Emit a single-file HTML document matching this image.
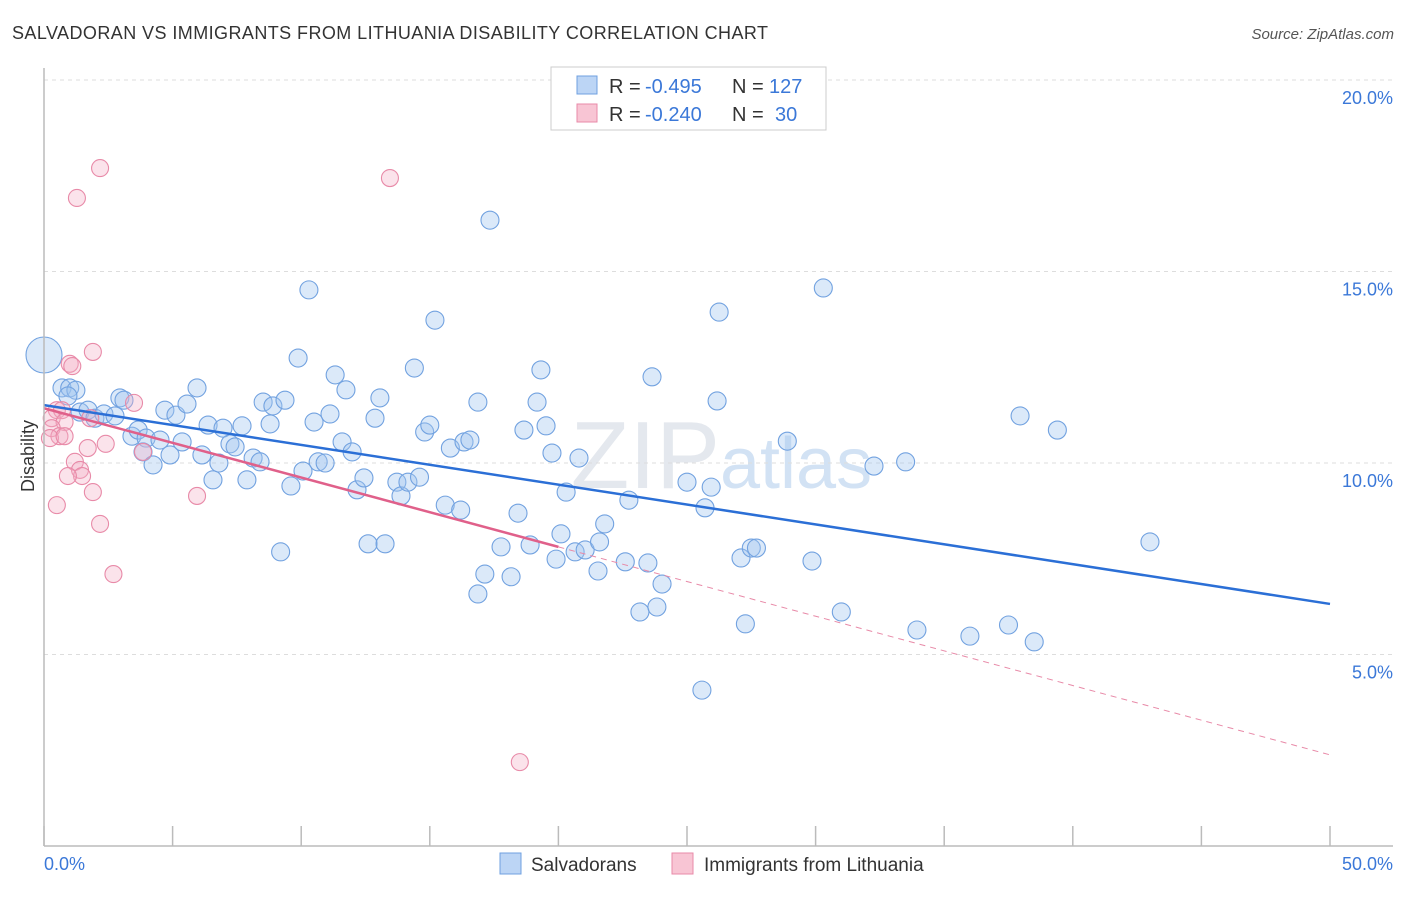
<!DOCTYPE html>
<html><head><meta charset="utf-8"><style>
body{margin:0;background:#fff;font-family:"Liberation Sans",sans-serif;}
svg text{font-family:"Liberation Sans",sans-serif;}
</style></head><body>
<svg id="c" width="1406" height="892" xmlns="http://www.w3.org/2000/svg">
<text x="12" y="39" font-size="18" fill="#333" textLength="756">SALVADORAN VS IMMIGRANTS FROM LITHUANIA DISABILITY CORRELATION CHART</text>
<text x="1394" y="39" font-size="15" fill="#555" font-style="italic" text-anchor="end">Source: ZipAtlas.com</text>
<text x="720" y="488" font-size="96" fill="#e4e8ee" text-anchor="end" font-family="Liberation Serif">ZIP</text>
<text x="720" y="488" font-size="72" fill="#d2e2f4">atlas</text>
<g id="grid"></g><g id="pts"></g><g id="trend"></g>
<line x1="44" y1="68" x2="44" y2="846" stroke="#bbb" stroke-width="1.5"/>
<line x1="44" y1="846" x2="1393" y2="846" stroke="#bbb" stroke-width="1.5"/>
<text transform="translate(34,456) rotate(-90)" font-size="18" fill="#333" text-anchor="middle">Disability</text>
<text x="44" y="870" font-size="18" fill="#3b78d8">0.0%</text>
<text x="1393" y="870" font-size="18" fill="#3b78d8" text-anchor="end">50.0%</text>
<g>
<rect x="551" y="67" width="275" height="63" fill="#fff" stroke="#ccc"/>
<rect x="577" y="76" width="20" height="18" fill="#bcd5f5" stroke="#6fa0e0"/>
<rect x="577" y="104" width="20" height="18" fill="#f8c5d4" stroke="#e88aa8"/>
<text x="609" y="93" font-size="20" fill="#333">R =</text>
<text x="645" y="93" font-size="20" fill="#3b78d8">-0.495</text>
<text x="732" y="93" font-size="20" fill="#333">N =</text>
<text x="769" y="93" font-size="20" fill="#3b78d8">127</text>
<text x="609" y="121" font-size="20" fill="#333">R =</text>
<text x="645" y="121" font-size="20" fill="#3b78d8">-0.240</text>
<text x="732" y="121" font-size="20" fill="#333">N =</text>
<text x="775" y="121" font-size="20" fill="#3b78d8">30</text>
</g>
<g>
<rect x="500" y="853" width="21" height="21" fill="#bcd5f5" stroke="#6fa0e0"/>
<text x="531" y="871" font-size="19" fill="#333">Salvadorans</text>
<rect x="672" y="853" width="21" height="21" fill="#f8c5d4" stroke="#e88aa8"/>
<text x="704" y="871" font-size="19" fill="#333">Immigrants from Lithuania</text>
</g>
</svg>
<script>
const yTicks=[5,10,15,20];
const yTickLabels=["5.0%","10.0%","15.0%","20.0%"];
const xTicks=[0,5,10,15,20,25,30,35,40,45,50];
const blueX=[0,0.7,1.0,1.24,0.93,1.4,1.71,1.98,2.33,2.76,2.95,3.11,3.42,3.66,3.97,3.85,4.24,4.51,4.7,4.9,5.13,5.37,5.56,5.95,6.14,6.38,6.57,6.8,6.96,7.23,7.43,7.7,7.89,8.13,8.4,8.52,8.79,8.9,9.37,9.2,9.6,9.88,10.07,10.3,10.5,10.66,10.93,11.12,11.32,11.59,11.74,11.98,12.17,12.44,12.6,12.87,13.06,13.26,13.72,13.88,14.15,14.4,14.6,14.8,15.0,15.2,15.6,15.8,16.2,16.33,16.56,16.87,16.87,17.14,17.34,17.77,18.16,18.43,18.66,18.9,19.17,19.32,19.52,19.75,19.91,20.1,20.3,20.65,20.8,21.04,21.54,21.6,21.8,22.6,22.74,23.17,23.48,23.64,23.83,24.03,25.0,25.58,25.7,25.94,26.17,26.25,27.1,27.27,27.5,27.7,28.9,29.86,30.3,31.0,32.27,33.5,33.94,36.0,37.5,37.95,38.5,39.4,43.0];
const blueY=[12.82,11.96,11.96,11.9,11.75,11.33,11.38,11.17,11.28,11.23,11.7,11.64,10.7,10.86,10.65,10.29,9.95,10.6,11.38,10.21,11.25,10.55,11.54,11.96,10.21,10.99,9.56,10.0,10.91,10.5,10.42,10.97,9.56,10.13,10.03,11.59,11.02,11.49,11.64,7.68,9.4,12.74,9.79,14.52,11.07,10.03,10.0,11.28,12.3,10.55,11.91,10.29,9.3,9.61,7.89,11.17,11.7,7.89,9.5,9.14,9.5,12.48,9.63,10.81,10.99,13.73,8.9,10.39,8.77,10.55,10.6,11.59,6.58,7.1,16.34,7.81,7.03,8.69,10.86,7.86,11.59,12.43,10.97,10.26,7.49,8.15,9.24,7.68,10.13,7.73,7.18,7.94,8.41,7.42,9.03,6.11,7.39,12.25,6.24,6.84,9.5,4.07,8.83,9.37,11.62,13.94,7.52,5.8,7.78,7.78,10.57,7.44,14.57,6.11,9.92,10.03,5.64,5.48,5.77,11.23,5.33,10.86,7.94];
const pinkX=[2.18,1.28,13.45,1.9,1.0,1.1,3.5,0.5,0.7,0.3,0.8,1.8,0.3,0.6,0.23,0.8,2.4,3.85,1.7,1.2,1.4,1.48,0.93,1.9,5.95,0.5,2.18,2.7,18.5];
const pinkY=[17.7,16.92,17.44,12.9,12.59,12.53,11.57,11.38,11.38,11.17,11.07,11.17,10.91,10.7,10.65,10.7,10.5,10.29,10.39,10.03,9.82,9.66,9.66,9.24,9.14,8.9,8.41,7.1,2.19];
const blueTrend=[11.51,6.32];
const pinkTrend=[11.43,2.38];
const NS="http://www.w3.org/2000/svg";
const X=v=>44+v/50*1286, Y=v=>846-v*38.3;
function mk(t,a,p){const e=document.createElementNS(NS,t);for(const k in a)e.setAttribute(k,a[k]);p.appendChild(e);return e;}
const g=document.getElementById('grid');
yTicks.forEach((t,i)=>{
 const l=mk('line',{x1:44,x2:1393,y1:Y(t),y2:Y(t),stroke:'#ddd','stroke-dasharray':'4,4'},g);
 
 
 const tx=mk('text',{x:1393,y:Y(t)+24,'font-size':18,fill:'#3b78d8','text-anchor':'end'},g);
 tx.textContent=yTickLabels[i];
 
 
});
xTicks.forEach(t=>{
 const l=mk('line',{x1:X(t),x2:X(t),y1:826,y2:846,stroke:'#bbb','stroke-width':1.5},g);
 
 
});
const p=document.getElementById('pts');
blueX.forEach((x,i)=>{
 const c=mk('circle',{cx:X(x),cy:Y(blueY[i]),r:i==0?18:9,fill:'rgba(160,196,240,0.38)',stroke:'#72a2e0','stroke-width':1.1},p);
 
 
});
pinkX.forEach((x,i)=>{
 const c=mk('circle',{cx:X(x),cy:Y(pinkY[i]),r:8.5,fill:'rgba(244,175,198,0.35)',stroke:'#e88aa8','stroke-width':1.1},p);
 
 
});
const tr=document.getElementById('trend');
const bl=mk('line',{x1:X(0),y1:Y(blueTrend[0]),x2:X(50),y2:Y(blueTrend[1]),stroke:'#2b6fd6','stroke-width':2.5},tr);


const pv=x=>pinkTrend[0]+(pinkTrend[1]-pinkTrend[0])*x/50;
const ps=mk('line',{x1:X(0),y1:Y(pv(0)),x2:X(20),y2:Y(pv(20)),stroke:'#e0608a','stroke-width':2.5},tr);


const pd=mk('line',{x1:X(20),y1:Y(pv(20)),x2:X(50),y2:Y(pv(50)),stroke:'#e88aa8','stroke-width':1,'stroke-dasharray':'6,5'},tr);


</script>
</body></html>
